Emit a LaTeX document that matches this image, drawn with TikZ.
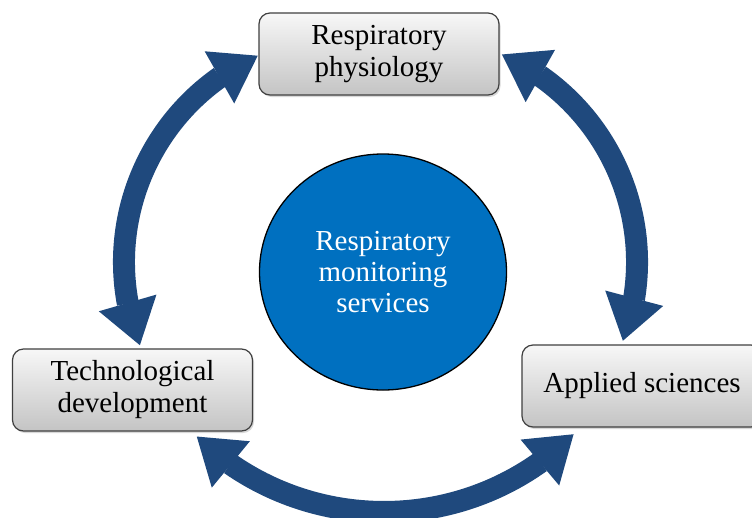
\documentclass[tikz,border=0pt]{standalone}
\usepackage{fontspec}
\setmainfont{Liberation Serif}
\usetikzlibrary{arrows.meta,bending,shadows,shapes.geometric}
\definecolor{arrowblue}{RGB}{31,73,125}
\definecolor{circblue}{RGB}{0,112,192}
\definecolor{boxtop}{RGB}{247,247,247}
\definecolor{boxbot}{RGB}{196,196,196}
\definecolor{boxedge}{RGB}{64,64,64}
\begin{document}
\begin{tikzpicture}[x=1pt,y=-1pt,
  box/.style={draw=boxedge, line width=1.2pt, rounded corners=11pt,
    top color=boxtop, bottom color=boxbot,
    minimum width=240pt, minimum height=82pt, inner sep=0pt, align=center,
    font=\fontsize{29}{32}\selectfont,
    drop shadow={shadow xshift=1.5pt, shadow yshift=-2pt, opacity=0.3}},
  hub/.style={ellipse, draw=black, line width=1.3pt, fill=circblue,
    minimum width=247pt, minimum height=236pt, inner sep=0pt, align=center,
    text=white, font=\fontsize{29}{31}\selectfont},
  curvarrow/.style={draw=arrowblue, line width=22pt,
    {Triangle[length=44pt,width=60pt,line width=0pt]}-{Triangle[length=44pt,width=60pt,line width=0pt]}}
]
\useasboundingbox (0,0) rectangle (752,517);
\clip (0,0) rectangle (752,517);
\fill[white] (0,0) rectangle (752,517);

\coordinate (cL) at (350,262);
\coordinate (cR) at (410,262);
\coordinate (cB) at (384,242);

\draw[curvarrow] ([shift={(-114.1:226)}]cL) arc[start angle=-114.1, end angle=-201.6, radius=226];
\draw[curvarrow] ([shift={(-66.1:227)}]cR) arc[start angle=-66.1, end angle=20.3, radius=227];
\draw[curvarrow] ([shift={(133.9:270)}]cB) arc[start angle=133.9, end angle=45.4, radius=270];

\node[hub] (hubnode) at (383,272) {Respiratory\\monitoring\\services};

\node[box] (phys) at (379,54) {Respiratory\\physiology};
\node[box] (tech) at (132.5,390) {Technological\\development};
\node[box] (appl) at (642,386) {Applied sciences};
\end{tikzpicture}
\end{document}
